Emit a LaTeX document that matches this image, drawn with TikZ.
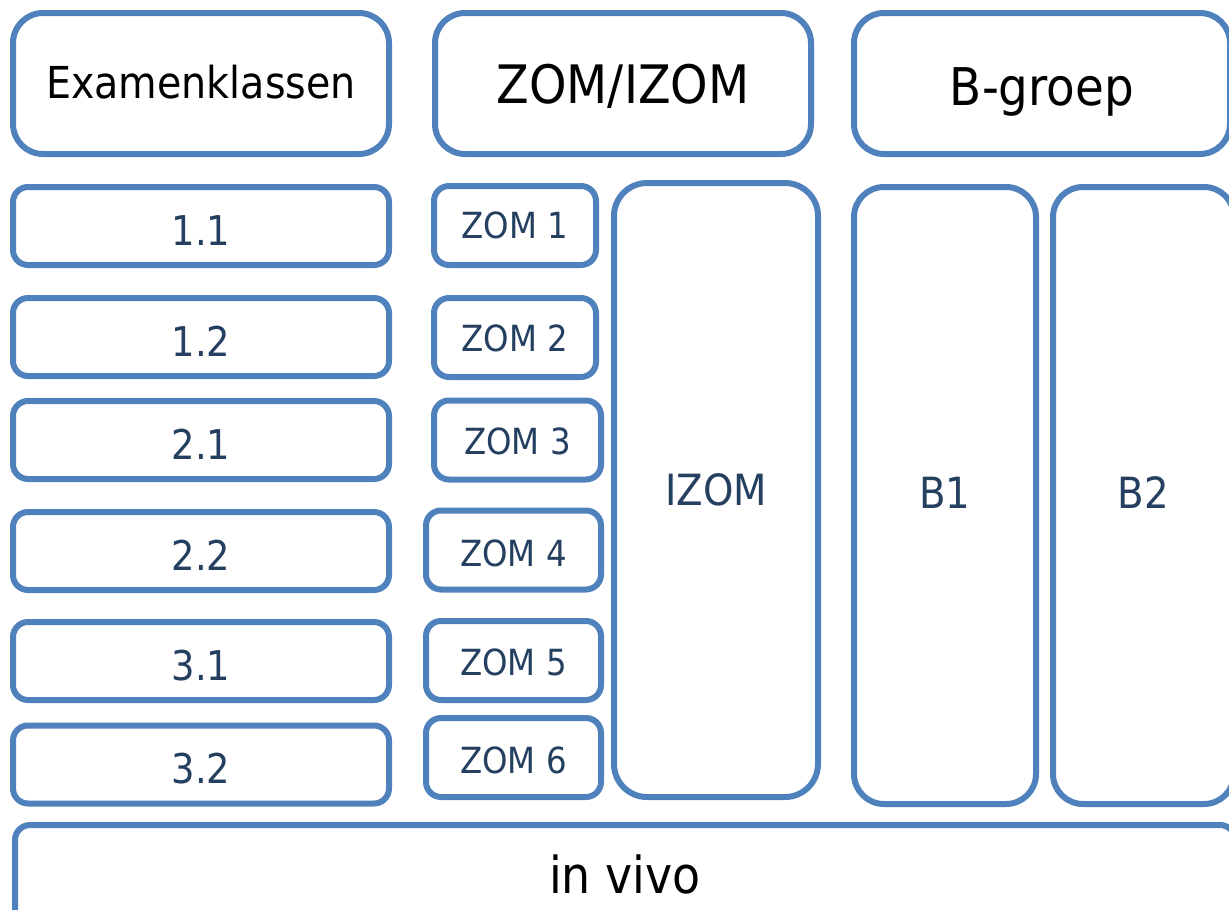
\documentclass[tikz,border=0pt]{standalone}
\usepackage{fontspec}
\setmainfont{DejaVu Sans}[FakeStretch=0.9]
\definecolor{boxblue}{HTML}{4F81BD}
\definecolor{txtblue}{HTML}{243F60}
\tikzset{
  x=1pt, y=-1pt,
  box/.style={draw=boxblue, line width=6pt, fill=white, inner sep=0pt, anchor=center},
  header/.style={box, rounded corners=30pt, minimum width=376pt, minimum height=141pt, text=black},
  rowbox/.style={box, rounded corners=15pt, minimum width=376pt, minimum height=78pt, text=txtblue,
    font=\fontsize{41}{45}\selectfont, text height=38pt, text depth=0pt},
  zombox/.style={box, rounded corners=15pt, minimum height=79pt, text=txtblue,
    font=\fontsize{36}{40}\selectfont, text height=29pt, text depth=0pt},
  tallbox/.style={box, rounded corners=33pt, text=txtblue,
    font=\fontsize{43}{47}\selectfont, text depth=0pt},
}
\begin{document}
\begin{tikzpicture}
\useasboundingbox (0,0) rectangle (1229,910);
\clip (0,0) rectangle (1229,910);
% headers
\node[header, font=\fontsize{44}{48}\selectfont, text height=29pt, text depth=0pt] (exam) at (201,83.5) {Examenklassen};
\node[header, font=\fontsize{53}{57}\selectfont, text height=39pt, text depth=0pt] (zomizom) at (623,83.5) {ZOM/IZOM};
\node[header, font=\fontsize{52}{56}\selectfont, text height=43pt, text depth=0pt] (bgroep) at (1042,83.5) {B-groep};
% left rows
\node[rowbox] (r11) at (201,226) {1.1};
\node[rowbox] (r12) at (201,337) {1.2};
\node[rowbox] (r21) at (201,440) {2.1};
\node[rowbox] (r22) at (201,551) {2.2};
\node[rowbox] (r31) at (201,661) {3.1};
\node[rowbox] (r32) at (201,764.5) {3.2};
% ZOM boxes
\node[zombox, minimum width=162pt, text height=25pt] (z1) at (515,225.5) {ZOM 1};
\node[zombox, minimum width=162pt, text height=27pt] (z2) at (515,337.5) {ZOM 2};
\node[zombox, minimum width=167pt] (z3) at (517.5,440) {ZOM 3};
\node[zombox, minimum width=175pt, text height=32pt] (z4) at (513.5,550) {ZOM 4};
\node[zombox, minimum width=175pt] (z5) at (513.5,660.5) {ZOM 5};
\node[zombox, minimum width=175pt, text height=31pt] (z6) at (513.5,757.5) {ZOM 6};
% tall boxes
\node[tallbox, minimum width=204pt, minimum height=614pt, text height=30pt] (izom) at (716,490) {IZOM};
\node[tallbox, rounded corners=30pt, minimum width=182pt, minimum height=617pt, text height=26pt] (b1) at (945,495.5) {B1};
\node[tallbox, rounded corners=30pt, minimum width=181pt, minimum height=617pt, text height=26pt] (b2) at (1143.5,495.5) {B2};
% in vivo
\node[box, rounded corners=15pt, minimum width=1220pt, minimum height=120pt, text=black,
  font=\fontsize{51}{55}\selectfont, text height=16pt, text depth=0pt] (invivo) at (625,885) {in vivo};
\end{tikzpicture}
\end{document}
